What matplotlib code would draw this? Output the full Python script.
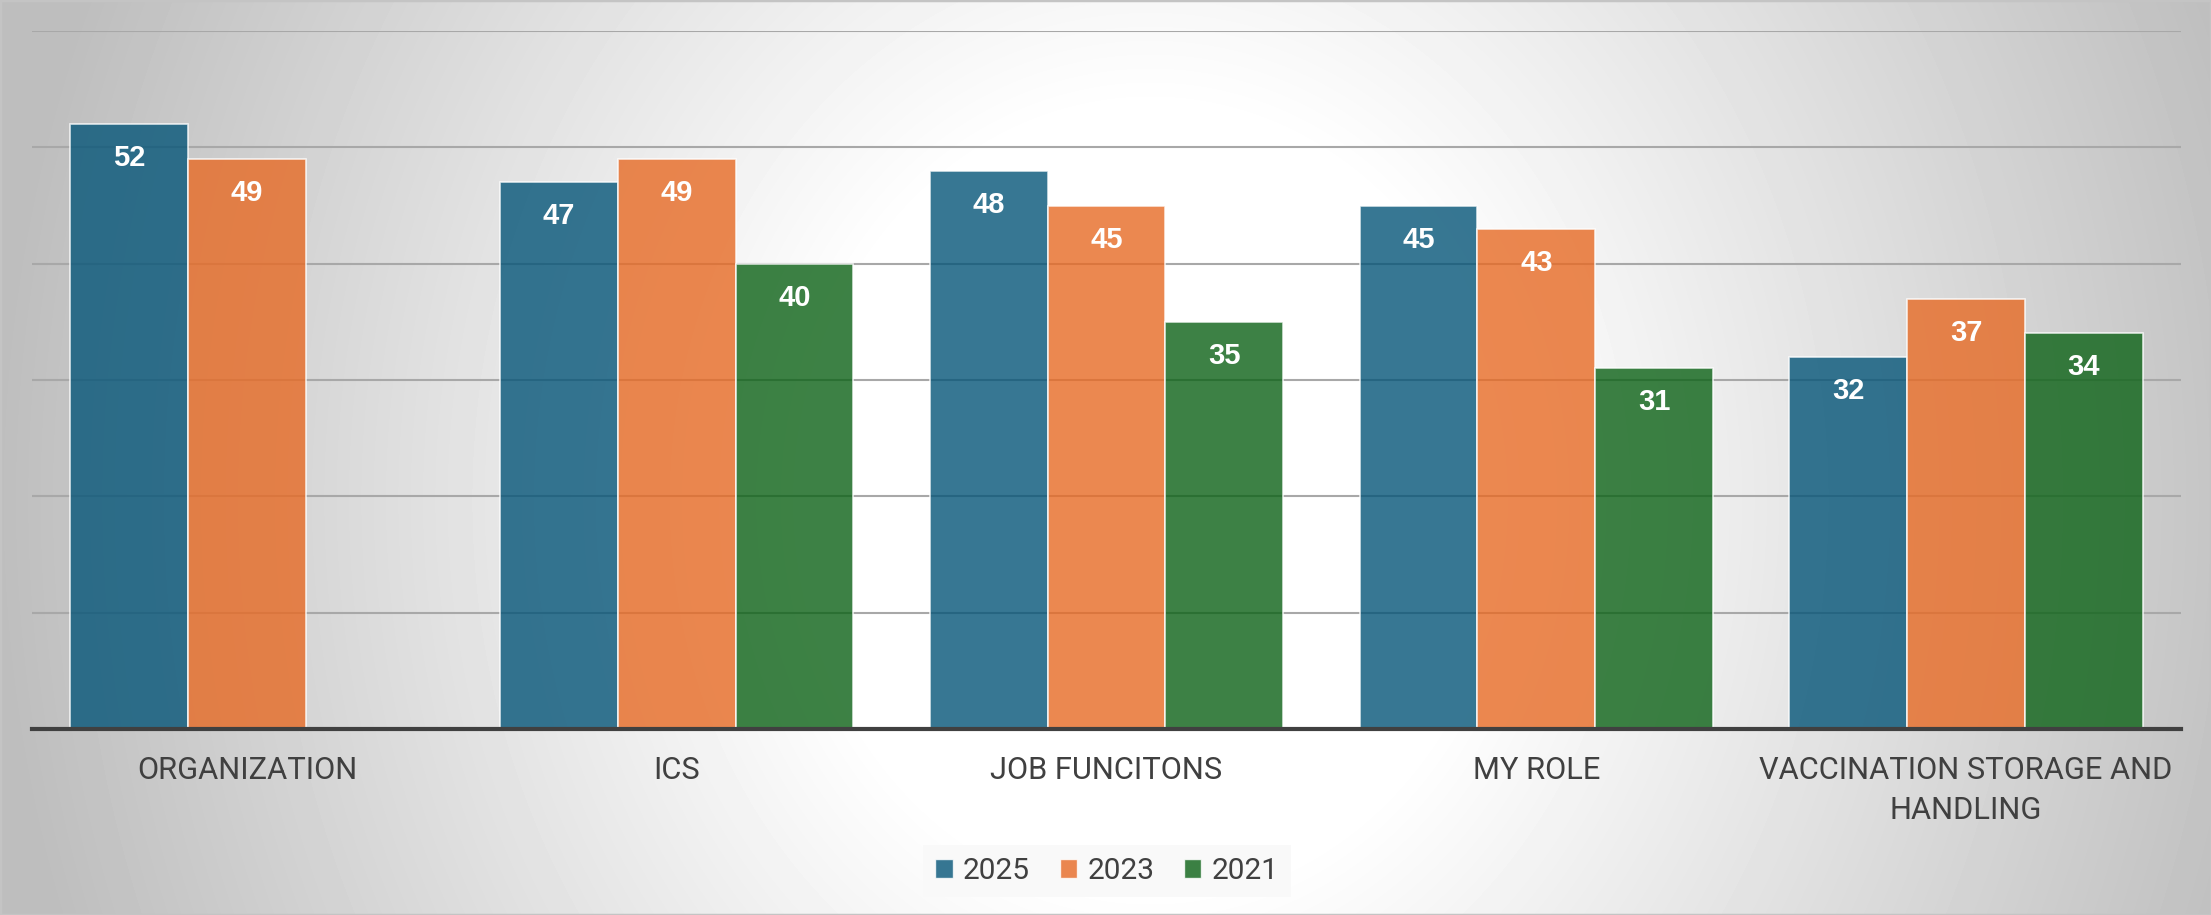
import numpy as np
import matplotlib.pyplot as plt
from matplotlib.patches import Patch, Rectangle

# data
categories = ["ORGANIZATION", "ICS", "JOB FUNCITONS", "MY ROLE", "VACCINATION STORAGE AND\nHANDLING"]
years = ["2025", "2023", "2021"]
values_2025 = [52, 47, 48, 45, 32]
values_2023 = [49, 49, 45, 43, 37]
values_2021 = [None, 40, 35, 31, 34]
series = [values_2025, values_2023, values_2021]
colors = ["#055578", "#e76a24", "#0c6216"]

W, H = 2211, 915
fig = plt.figure(figsize=(W / 100, H / 100), dpi=100)

# radial grey-to-white background
bg = fig.add_axes([0, 0, 1, 1], zorder=-10)
xx, yy = np.meshgrid(np.arange(W), np.arange(H))
d = np.sqrt(((xx - 1150) / 1150.0) ** 2 + ((yy - 500) / 1300.0) ** 2)
t = np.clip((d - 0.3) / 0.7, 0, 1)
shade = (255 - 65 * t) / 255.0
bg.imshow(shade, cmap="gray", vmin=0, vmax=1, aspect="auto", interpolation="bilinear")
bg.set_axis_off()
fig.patches.append(Rectangle((0, 0), 1, 1, transform=fig.transFigure, fill=False,
                             edgecolor="#c4c4c4", linewidth=2.5))

ax = fig.add_axes([32 / W, (H - 729) / H, (2181 - 32) / W, (729 - 31) / H])
ax.patch.set_alpha(0)

width = 0.274
x = np.arange(len(categories))
for j, (vals, col) in enumerate(zip(series, colors)):
    for i, v in enumerate(vals):
        if v is None:
            continue
        xpos = x[i] + (j - 1) * width
        ax.bar(xpos, v, width=width, color=col, alpha=0.8, edgecolor=(1, 1, 1, 0.75),
               linewidth=1.2, zorder=3)
        ax.annotate(str(v), (xpos, v), xytext=(0, -24.5), textcoords="offset points",
                    ha="center", va="center", color="white", fontsize=21,
                    fontweight="bold", family="Liberation Sans", zorder=5)

ax.set_xlim(-0.5, len(categories) - 0.5)
ax.set_ylim(0, 60)
ax.set_yticks(np.arange(0, 61, 10))
ax.yaxis.grid(True, color="#a8a8a8", linewidth=1.5, zorder=0)
ax.set_axisbelow(True)
ax.tick_params(axis="y", left=False, labelleft=False)
ax.set_xticks(x)
ax.set_xticklabels(categories, fontsize=22.2, family="Roboto", color="#404040", linespacing=1.48)
ax.tick_params(axis="x", length=0, pad=19.5)
for s in ["top", "right", "left"]:
    ax.spines[s].set_visible(False)
ax.spines["bottom"].set_color("#404040")
ax.spines["bottom"].set_linewidth(3)
ax.spines["bottom"].set_zorder(6)

handles = [Patch(facecolor=c, alpha=0.8, edgecolor=(1, 1, 1, 0.6), linewidth=1) for c in colors]
leg = fig.legend(handles, years, loc="center", bbox_to_anchor=(1107 / W, 1 - 871 / H), ncol=3,
                 frameon=True, fancybox=False, facecolor="#f9f9f9", edgecolor="none", framealpha=1,
                 prop={"family": "Roboto", "size": 21.5}, handlelength=0.58, handleheight=0.58,
                 handletextpad=0.34, columnspacing=1.0, borderpad=0.4, borderaxespad=0)
for txt in leg.get_texts():
    txt.set_color("#404040")

fig.savefig("out.png", dpi=100)
